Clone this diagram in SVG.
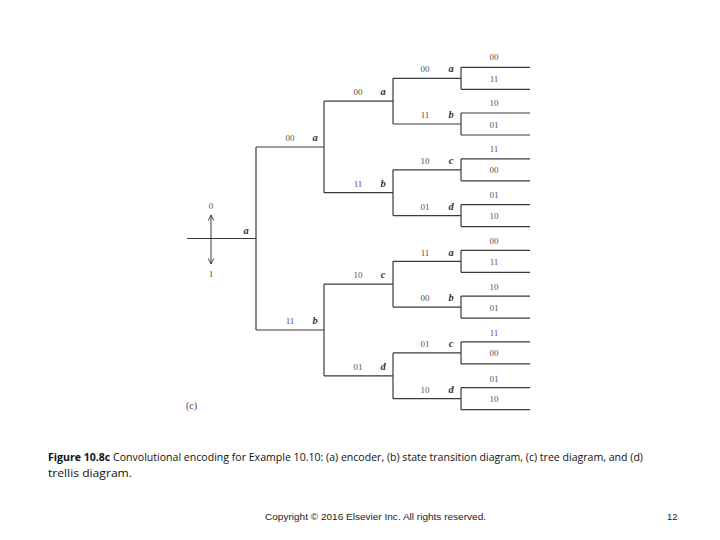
<svg xmlns="http://www.w3.org/2000/svg" width="720" height="540" viewBox="0 0 720 540">
<defs>
<style>
.ln{fill:none;stroke:#3a3a3a;stroke-width:1.2}
.n{font-family:"Liberation Serif",serif;font-size:9px;fill:#555;text-anchor:middle}
.s{font-family:"Liberation Serif",serif;font-size:10.5px;font-style:italic;font-weight:bold;fill:#333;text-anchor:middle}
.cap{font-family:"Open Sans","Liberation Sans",sans-serif;font-size:11px;fill:#111}
.cp{font-family:"Liberation Sans",sans-serif;font-size:9.5px;fill:#222}
</style>
<marker id="ah" viewBox="0 0 10 10" refX="9" refY="5" markerWidth="7" markerHeight="7" orient="auto" markerUnits="userSpaceOnUse">
<path d="M1,1 L9,5 L1,9" fill="none" stroke="#333" stroke-width="1.3"/>
</marker>
</defs>
<rect width="720" height="540" fill="#fff"/>
<g id="connectors" class="ln">
<path d="M187,238.5 H256 M256,147 V330 M256,147 H324 M256,330 H324"/>
<path d="M324,101.2 V192.7 M324,101.2 H393 M324,192.7 H393 M324,284.2 V375.8 M324,284.2 H393 M324,375.8 H393"/>
<path d="M393,78.3 V124 M393,78.3 H461 M393,124 H461 M393,169.8 V215.6 M393,169.8 H461 M393,215.6 H461 M393,261.3 V307.1 M393,261.3 H461 M393,307.1 H461 M393,352.9 V398.7 M393,352.9 H461 M393,398.7 H461"/>
<path d="M461,67.3 V89.3 M461,67.3 H530 M461,89.3 H530 M461,113 V135 M461,113 H530 M461,135 H530 M461,158.8 V180.8 M461,158.8 H530 M461,180.8 H530 M461,204.6 V226.6 M461,204.6 H530 M461,226.6 H530 M461,250.3 V272.3 M461,250.3 H530 M461,272.3 H530 M461,296.1 V318.1 M461,296.1 H530 M461,318.1 H530 M461,341.9 V363.9 M461,341.9 H530 M461,363.9 H530 M461,387.7 V409.7 M461,387.7 H530 M461,409.7 H530"/>
<path d="M211,238.5 V215" marker-end="url(#ah)" stroke-width="1"/>
<path d="M211,238.5 V264" marker-end="url(#ah)" stroke-width="1"/>
</g>
<g id="root"><text class="s" x="246" y="234">a</text>
<text class="n" x="211" y="209" font-size="8">0</text><text class="n" x="211" y="277" font-size="8">1</text></g>
<g id="l1a"><text class="n" x="290" y="141">00</text><text class="s" x="315" y="141">a</text></g>
<g id="l1b"><text class="n" x="290" y="324">11</text><text class="s" x="315" y="324">b</text></g>
<g id="l2a"><text class="n" x="358" y="95">00</text><text class="s" x="383" y="95">a</text></g>
<g id="l2b"><text class="n" x="358" y="187">11</text><text class="s" x="383" y="187">b</text></g>
<g id="l2c"><text class="n" x="358" y="278">10</text><text class="s" x="383" y="278">c</text></g>
<g id="l2d"><text class="n" x="358" y="370">01</text><text class="s" x="383" y="370">d</text></g>
<g id="l3a1"><text class="n" x="425" y="72">00</text><text class="s" x="451" y="72">a</text><text class="n" x="494" y="60">00</text><text class="n" x="494" y="82">11</text></g>
<g id="l3b1"><text class="n" x="425" y="118">11</text><text class="s" x="451" y="118">b</text><text class="n" x="494" y="106">10</text><text class="n" x="494" y="128">01</text></g>
<g id="l3c1"><text class="n" x="425" y="164">10</text><text class="s" x="451" y="164">c</text><text class="n" x="494" y="152">11</text><text class="n" x="494" y="173">00</text></g>
<g id="l3d1"><text class="n" x="425" y="210">01</text><text class="s" x="451" y="210">d</text><text class="n" x="494" y="198">01</text><text class="n" x="494" y="219">10</text></g>
<g id="l3a2"><text class="n" x="425" y="256">11</text><text class="s" x="451" y="256">a</text><text class="n" x="494" y="244">00</text><text class="n" x="494" y="265">11</text></g>
<g id="l3b2"><text class="n" x="425" y="301">00</text><text class="s" x="451" y="301">b</text><text class="n" x="494" y="290">10</text><text class="n" x="494" y="311">01</text></g>
<g id="l3c2"><text class="n" x="425" y="347">01</text><text class="s" x="451" y="347">c</text><text class="n" x="494" y="336">11</text><text class="n" x="494" y="356">00</text></g>
<g id="l3d2"><text class="n" x="425" y="393">10</text><text class="s" x="451" y="393">d</text><text class="n" x="494" y="382">01</text><text class="n" x="494" y="402">10</text></g>
<text x="186" y="409" font-family="Liberation Serif,serif" font-size="10" fill="#444">(c)</text>
<text class="cap" x="48" y="461" textLength="595" lengthAdjust="spacingAndGlyphs"><tspan font-weight="bold">Figure 10.8c</tspan> Convolutional encoding for Example 10.10: (a) encoder, (b) state transition diagram, (c) tree diagram, and (d)</text>
<text class="cap" x="48" y="477" textLength="84" lengthAdjust="spacingAndGlyphs">trellis diagram.</text>
<text class="cp" x="265" y="520" textLength="221" lengthAdjust="spacingAndGlyphs">Copyright © 2016 Elsevier Inc. All rights reserved.</text>
<text class="cp" x="667" y="520">12</text>
</svg>
